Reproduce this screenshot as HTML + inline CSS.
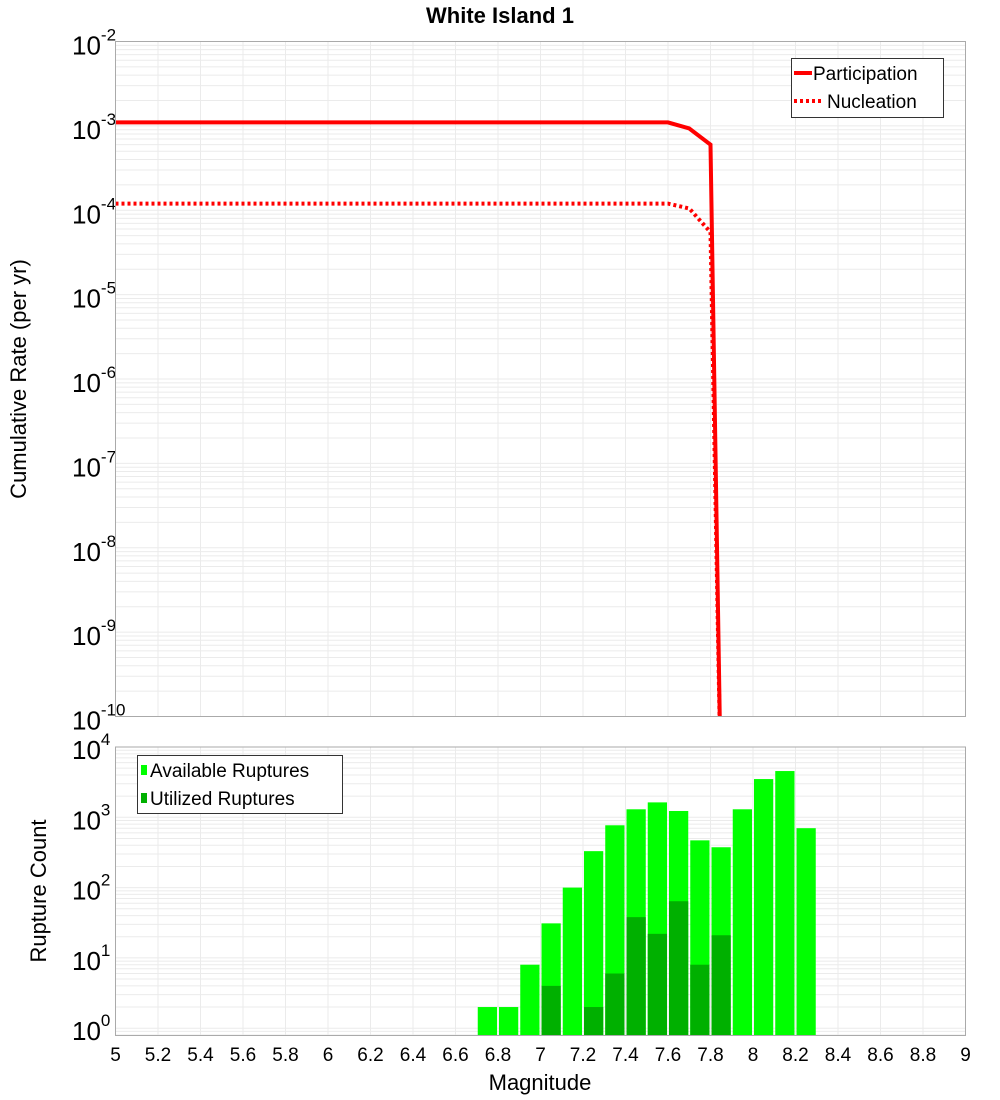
<!DOCTYPE html>
<html><head><meta charset="utf-8"><style>body{margin:0;background:#fff}svg{display:block;font-family:"Liberation Sans","DejaVu Sans",sans-serif}</style></head>
<body>
<svg id="c" width="1000" height="1100" xmlns="http://www.w3.org/2000/svg"></svg>
<script>
const partMag=[5.0,7.6,7.7,7.8,7.85];
const partRate=[1.1e-3,1.1e-3,9.3e-4,6e-4,1e-11];
const nuclMag=[5.0,7.6,7.7,7.8,7.85];
const nuclRate=[1.2e-4,1.2e-4,1.05e-4,5.5e-5,1e-11];
const binMag=[6.75,6.85,6.95,7.05,7.15,7.25,7.35,7.45,7.55,7.65,7.75,7.85,7.95,8.05,8.15,8.25];
const availCount=[2,2,8,31,100,330,770,1300,1630,1230,470,375,1300,3500,4550,700];
const usedCount=[0,0,0,4,0,2,6,38,22,64,8,21,0,0,0,0];
const xTicks=["5","5.2","5.4","5.6","5.8","6","6.2","6.4","6.6","6.8","7","7.2","7.4","7.6","7.8","8","8.2","8.4","8.6","8.8","9"];
const topExp=[-2,-3,-4,-5,-6,-7,-8,-9,-10];
const botExp=[0,1,2,3,4];

const svg=document.getElementById('c');
const NS='http://www.w3.org/2000/svg';
function mk(tag,attrs,parent,text){const e=document.createElementNS(NS,tag);for(const k in attrs)e.setAttribute(k,attrs[k]);if(text!==undefined)e.textContent=text;(parent||svg).appendChild(e);return e;}
const L=115.5,R=965.5;
const X=m=>L+(m-5)/4*(R-L);
const T0=41.5,T1=716.5;
const Yt=v=>T0+(-2-Math.log10(v))*(T1-T0)/8;
const B0=747,DEC=70.3;
const B1=1035.5;
const Yb=v=>B0+(4-Math.log10(v))*DEC;

function title(){const t=mk('text',{x:500,y:23,'font-size':22,'font-weight':'bold','text-anchor':'middle'});t.textContent='White Island 1';}
title();

// top plot
const gt=mk('g',{});
const cp=mk('clipPath',{id:'ct'},svg);mk('rect',{x:L,y:T0,width:R-L,height:T1-T0},cp);
for(let d=-10;d<-2;d++)for(let k=1;k<10;k++){const y=Yt(k*Math.pow(10,d));if(y>T0&&y<T1)mk('line',{x1:L,x2:R,y1:y,y2:y,stroke:'#ebebeb','stroke-width':1},gt);}
xTicks.forEach((t,i)=>{const x=X(5+i*0.2);mk('line',{x1:x,x2:x,y1:T0,y2:T1,stroke:'#ebebeb'},gt);mk('line',{x1:x,x2:x,y1:B0,y2:B1,stroke:'#ebebeb'},svg);});
topExp.forEach(e=>{const y=Yt(Math.pow(10,e));const t=mk('text',{x:72,y:y+13,'font-size':26},gt);t.innerHTML='10<tspan dy="-14" font-size="17">'+e+'</tspan>';});
const pathOf=(ms,vs)=>ms.map((m,i)=>(i?'L':'M')+X(m).toFixed(1)+','+Yt(vs[i]).toFixed(1)).join(' ');
const pl=mk('path',{d:pathOf(partMag,partRate),fill:'none',stroke:'#f00','stroke-width':4,'clip-path':'url(#ct)'},gt);
const nl=mk('path',{d:pathOf(nuclMag,nuclRate),fill:'none',stroke:'#f00','stroke-width':4,'stroke-dasharray':'3,3','clip-path':'url(#ct)'},gt);
mk('rect',{x:L,y:T0,width:R-L,height:T1-T0,fill:'none',stroke:'#aaa'},gt);
const lg=mk('g',{},gt);
mk('rect',{x:791.5,y:58.5,width:152,height:59,fill:'#fff',stroke:'#333'},lg);
mk('line',{x1:794,x2:812,y1:73,y2:73,stroke:'#f00','stroke-width':4},lg);
mk('text',{x:813,y:80,'font-size':19},lg,'Participation');
mk('line',{x1:794,x2:822,y1:101,y2:101,stroke:'#f00','stroke-width':4,'stroke-dasharray':'3,3'},lg);
mk('text',{x:827,y:108,'font-size':19},lg,'Nucleation');
const yt=mk('text',{x:26,y:379,'font-size':22,'text-anchor':'middle',transform:'rotate(-90 26 379)'},svg,'Cumulative Rate (per yr)');

// bottom plot
const gb=mk('g',{});
for(let d=-1;d<4;d++)for(let k=1;k<10;k++){const y=Yb(k*Math.pow(10,d));if(y>B0&&y<B1)mk('line',{x1:L,x2:R,y1:y,y2:y,stroke:'#ebebeb'},gb);}
botExp.forEach(e=>{const y=Yb(Math.pow(10,e));const t=mk('text',{x:72,y:y+12,'font-size':26},gb);t.innerHTML='10<tspan dy="-14" font-size="17">'+e+'</tspan>';});
const bw=(R-L)/40;
binMag.forEach((m,i)=>{const x=X(m)-bw/2+1;
 if(availCount[i]>0){const r=mk('rect',{x:x,y:Yb(availCount[i]),width:bw-2,height:B1-Yb(availCount[i]),fill:'#00ff00'},gb);}
 if(usedCount[i]>0){const r=mk('rect',{x:x,y:Yb(usedCount[i]),width:bw-2,height:B1-Yb(usedCount[i]),fill:'#00b000'},gb);}
});
mk('rect',{x:L,y:B0,width:R-L,height:B1-B0,fill:'none',stroke:'#aaa'},gb);
const lg2=mk('g',{},gb);
mk('rect',{x:137.5,y:755.5,width:205,height:58,fill:'#fff',stroke:'#333'},lg2);
mk('rect',{x:141,y:765,width:6,height:10,fill:'#00ff00'},lg2);
mk('text',{x:150,y:777,'font-size':19},lg2,'Available Ruptures');
mk('rect',{x:141,y:793,width:6,height:10,fill:'#00b000'},lg2);
mk('text',{x:150,y:805,'font-size':19},lg2,'Utilized Ruptures');
const yb=mk('text',{x:46,y:891,'font-size':22,'text-anchor':'middle',transform:'rotate(-90 46 891)'},svg,'Rupture Count');
xTicks.forEach((t,i)=>{const e=mk('text',{x:X(5+i*0.2),y:1061,'font-size':19,'text-anchor':'middle'},svg,t);});
const xt=mk('text',{x:540,y:1090,'font-size':22,'text-anchor':'middle'},svg,'Magnitude');
</script>
</body></html>
